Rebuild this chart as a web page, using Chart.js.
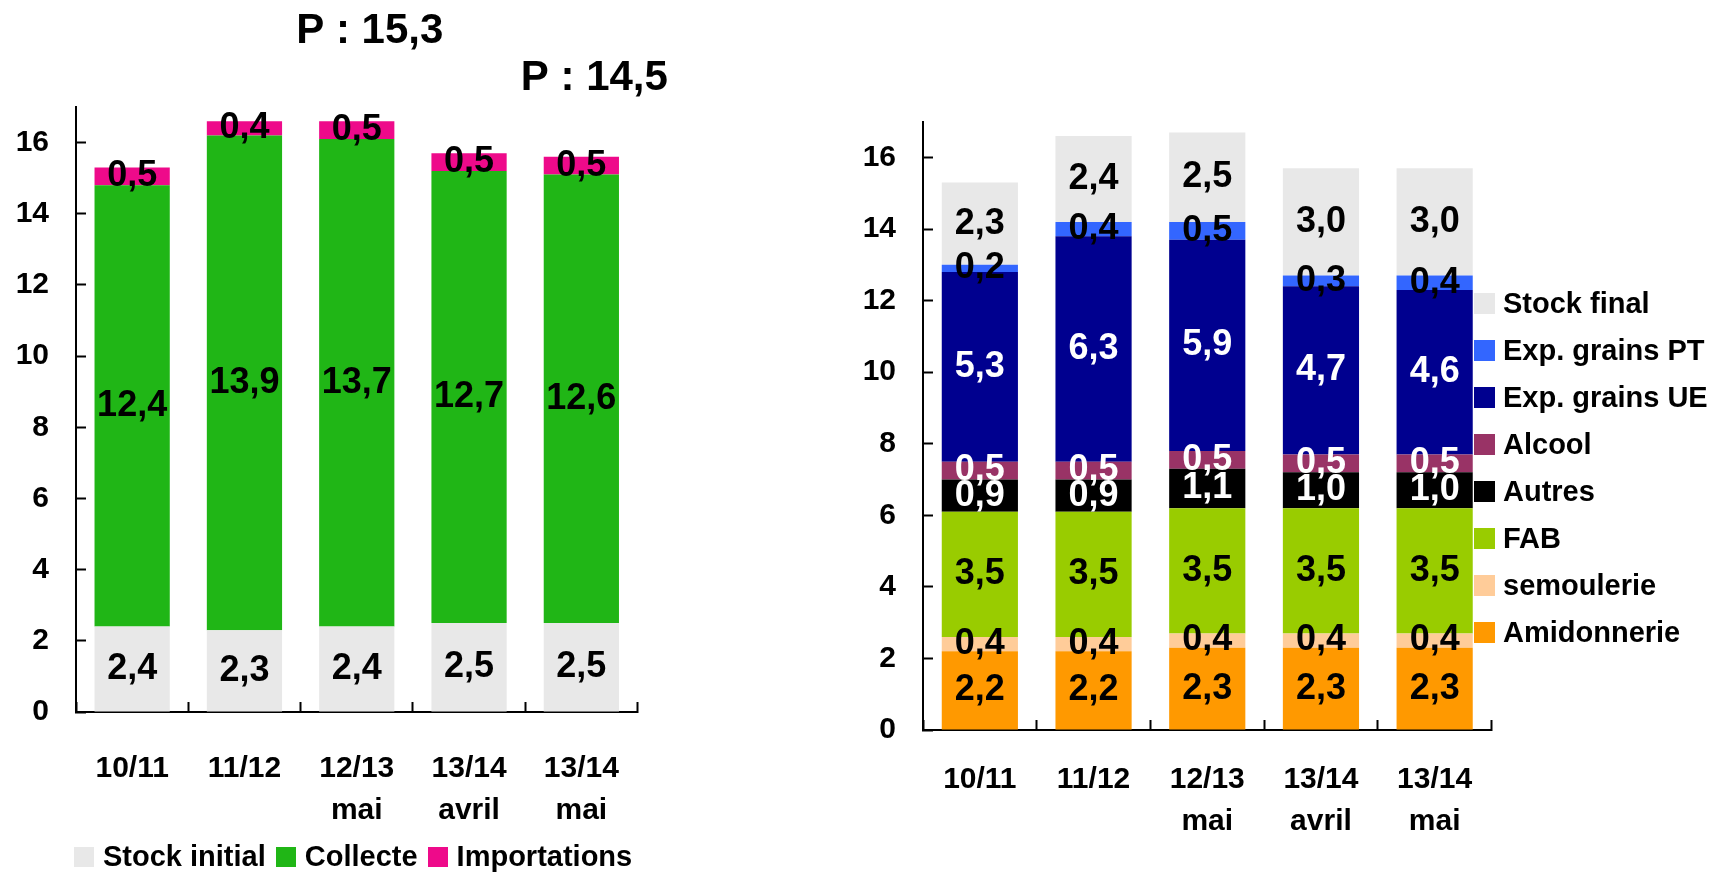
<!DOCTYPE html>
<html lang="fr">
<head>
<meta charset="utf-8">
<title>Bilan maïs</title>
<script src="https://cdn.jsdelivr.net/npm/chart.js@4.4.1/dist/chart.umd.min.js"></script>
<style>
  html, body { margin: 0; padding: 0; background: #fff; width: 1715px; height: 872px; overflow: hidden; }
  body { position: relative; font-family: "Liberation Sans", Arial, sans-serif; }
  #leftBox { position: absolute; left: 0; top: 0; width: 720px; height: 872px; }
  #rightBox { position: absolute; left: 720px; top: 0; width: 995px; height: 872px; }
  .legend { position: absolute; font-weight: bold; font-size: 29px; color: #000; white-space: nowrap; }
  .legend .item { display: flex; align-items: center; }
  .legend .box { display: inline-block; }
  #legendLeft { left: 74px; top: 842px; display: flex; }
  #legendLeft .item { height: 29px; line-height: 29px; margin-right: 10px; }
  #legendLeft .box { width: 20px; height: 20px; margin-right: 9px; }
  #legendRight { left: 1474px; top: 280px; }
  #legendRight .item { height: 47px; line-height: 29px; }
  #legendRight .box { width: 21px; height: 21px; margin-right: 8px; }
</style>
</head>
<body>
<div id="leftBox"><canvas id="ressources"></canvas></div>
<div id="rightBox"><canvas id="emplois"></canvas></div>
<div id="legendLeft" class="legend"></div>
<div id="legendRight" class="legend"></div>

<script>
// campagnes (axe x commun)
const campagnes = [["10/11"], ["11/12"], ["12/13", "mai"], ["13/14", "avril"], ["13/14", "mai"]];
const yMax = 17;
const yStep = 2;

// ressources (Mt)
const stockInitial = [2.4, 2.3, 2.4, 2.5, 2.5];
const collecte = [12.4, 13.9, 13.7, 12.7, 12.6];
const importations = [0.5, 0.4, 0.5, 0.5, 0.5];
const previsions = ["P : 15,3", "P : 14,5"];
const previsionIdx = [2, 4];

// emplois (Mt)
const amidonnerie = [2.2, 2.2, 2.3, 2.3, 2.3];
const semoulerie = [0.4, 0.4, 0.4, 0.4, 0.4];
const fab = [3.5, 3.5, 3.5, 3.5, 3.5];
const autres = [0.9, 0.9, 1.1, 1.0, 1.0];
const alcool = [0.5, 0.5, 0.5, 0.5, 0.5];
const expUE = [5.3, 6.3, 5.9, 4.7, 4.6];
const expPT = [0.2, 0.4, 0.5, 0.3, 0.4];
const stockFinal = [2.3, 2.4, 2.5, 3.0, 3.0];

const FONT = "'Liberation Sans', Arial, sans-serif";
Chart.defaults.font.family = FONT;
Chart.defaults.color = "#000";

/* ---------------------------------------------------
    valeurs écrites au milieu de chaque segment
----------------------------------------------------- */
const valueLabels = {
  id: "valueLabels",
  afterDatasetsDraw(chart) {
    const ctx = chart.ctx;
    ctx.save();
    ctx.font = "bold 36px " + FONT;
    ctx.textAlign = "center";
    ctx.textBaseline = "middle";
    chart.data.datasets.forEach((ds, d) => {
      chart.getDatasetMeta(d).data.forEach((bar, i) => {
        ctx.fillStyle = ds.labelColor || "#000";
        ctx.fillText(ds.data[i].toFixed(1).replace(".", ","), bar.x, (bar.y + bar.base) / 2);
      });
    });
    ctx.restore();
  }
};

// prévisions au-dessus du graphe de gauche
const previsionText = {
  id: "previsionText",
  afterDraw(chart) {
    const ctx = chart.ctx;
    const xs = chart.scales.x;
    ctx.save();
    ctx.font = "bold 42px " + FONT;
    ctx.textAlign = "center";
    ctx.textBaseline = "middle";
    ctx.fillStyle = "#000";
    previsions.forEach((t, k) => {
      ctx.fillText(t, xs.getPixelForValue(previsionIdx[k]) + 13, 31 + k * 47);
    });
    ctx.restore();
  }
};

function axes(xHeight, yWidth, xPad) {
  const tickGrid = { drawOnChartArea: false, tickLength: -10, tickColor: "#000", tickWidth: 2 };
  return {
    x: {
      stacked: true,
      grid: tickGrid,
      border: { color: "#000", width: 2 },
      ticks: { color: "#000", font: { size: 30, weight: "bold", lineHeight: 1.4 }, padding: xPad, maxRotation: 0, autoSkip: false },
      afterFit: (s) => { s.height = xHeight; }
    },
    y: {
      stacked: true,
      min: 0,
      max: yMax,
      bounds: "data",
      grid: tickGrid,
      border: { color: "#000", width: 2 },
      ticks: { stepSize: yStep, color: "#000", font: { size: 30, weight: "bold" }, padding: 37 },
      // pas de graduation pour le haut de l'axe (17)
      afterBuildTicks: (s) => { s.ticks = s.ticks.filter((t) => t.value % yStep === 0); },
      afterFit: (s) => { s.width = yWidth; }
    }
  };
}

function barSet(label, data, color, labelColor) {
  return {
    label: label,
    data: data,
    backgroundColor: color,
    borderWidth: 0,
    barPercentage: 0.67,
    categoryPercentage: 1,
    labelColor: labelColor
  };
}

const commonPlugins = { legend: { display: false }, tooltip: { enabled: false } };

/* ---------------------------------------------------
    ressources
----------------------------------------------------- */
const ressources = new Chart(document.getElementById("ressources"), {
  type: "bar",
  data: {
    labels: campagnes,
    datasets: [
      barSet("Stock initial", stockInitial, "#E8E8E8", "#000"),
      barSet("Collecte", collecte, "#20B616", "#000"),
      barSet("Importations", importations, "#EE0A8A", "#000"),
    ],
  },
  options: {
    responsive: true,
    maintainAspectRatio: false,
    animation: false,
    devicePixelRatio: 1,
    layout: { padding: { top: 107, right: 82.5, left: 0, bottom: 0 } },
    scales: axes(160, 76, 46),
    plugins: commonPlugins,
  },
  plugins: [valueLabels, previsionText],
});

/* ---------------------------------------------------
    emplois
----------------------------------------------------- */
const emplois = new Chart(document.getElementById("emplois"), {
  type: "bar",
  data: {
    labels: campagnes,
    datasets: [
      barSet("Amidonnerie", amidonnerie, "#FF9900", "#000"),
      barSet("semoulerie", semoulerie, "#FFCC99", "#000"),
      barSet("FAB", fab, "#99CC00", "#000"),
      barSet("Autres", autres, "#000000", "#fff"),
      barSet("Alcool", alcool, "#993366", "#fff"),
      barSet("Exp. grains UE", expUE, "#00008F", "#fff"),
      barSet("Exp. grains PT", expPT, "#3366FF", "#000"),
      barSet("Stock final", stockFinal, "#E8E8E8", "#000"),
    ],
  },
  options: {
    responsive: true,
    maintainAspectRatio: false,
    animation: false,
    devicePixelRatio: 1,
    layout: { padding: { top: 121.7, right: 223.5, left: 0, bottom: 0 } },
    scales: axes(142, 203, 39),
    plugins: commonPlugins,
  },
  plugins: [valueLabels],
});

/* ---------------------------------------------------
    légendes html
----------------------------------------------------- */
function buildLegend(el, chart, reverse) {
  const items = chart.data.datasets.map((ds) => ({ text: ds.label, color: ds.backgroundColor }));
  if (reverse) items.reverse();
  el.innerHTML = items
    .map((it) => '<div class="item"><span class="box" style="background:' + it.color + '"></span><span>' + it.text + "</span></div>")
    .join("");
}

buildLegend(document.getElementById("legendLeft"), ressources, false);
buildLegend(document.getElementById("legendRight"), emplois, true);
</script>
</body>
</html>
